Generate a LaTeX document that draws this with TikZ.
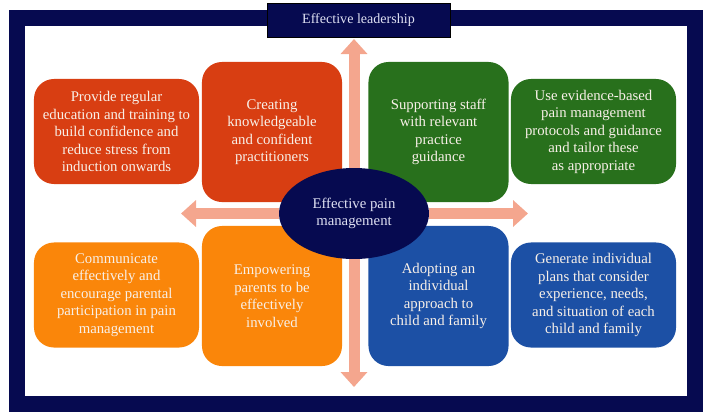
\documentclass[tikz,border=0pt]{standalone}
\usepackage{fontspec}
\setmainfont{Liberation Serif}
\usetikzlibrary{arrows.meta,shapes.geometric}
\definecolor{navy}{RGB}{6,10,80}
\definecolor{brick}{RGB}{216,62,18}
\definecolor{leaf}{RGB}{40,112,28}
\definecolor{amber}{RGB}{250,134,10}
\definecolor{cobalt}{RGB}{28,80,165}
\definecolor{salmon}{RGB}{244,166,142}
\definecolor{paper}{RGB}{248,240,232}
\definecolor{lilac}{RGB}{222,224,242}

\begin{document}
\begin{tikzpicture}[x=0.025cm,y=-0.025cm,
  box/.style={rounded corners=0.5cm,inner sep=0pt,align=center,text=paper,
    font=\fontsize{10.5}{12.45}\selectfont},
  wide/.style={box,minimum width=4.125cm,minimum height=2.625cm},
  tall/.style={box,minimum width=3.5cm,minimum height=3.5cm},
  spoke/.style={draw=salmon,line width=0.275cm,-{Triangle[width=0.65cm,length=0.375cm]}}]
  \useasboundingbox (0,0) rectangle (709,417);
  \draw[navy,line width=0.4cm] (17,18) rectangle (695,403.5);
  \node[fill=navy,draw=black,minimum width=4.575cm,minimum height=0.85cm,inner sep=0pt,
    text=lilac,font=\fontsize{10}{12}\selectfont] (lead) at (358.5,20) {Effective leadership};
  \node[wide,fill=brick] (educate) at (116.5,131.5) {Provide regular\\education and training to\\build confidence and\\reduce stress from\\induction onwards};
  \node[tall,fill=brick] (create) at (272,132) {Creating\\knowledgeable\\and confident\\practitioners};
  \node[tall,fill=leaf] (support) at (438.5,132) {Supporting staff\\with relevant\\practice\\guidance};
  \node[wide,fill=leaf] (evidence) at (593.5,131.5) {Use evidence-based\\pain management\\protocols and guidance\\and tailor these\\as appropriate};
  \node[wide,fill=amber] (communicate) at (116.5,295) {Communicate\\effectively and\\encourage parental\\participation in pain\\management};
  \node[tall,fill=amber] (empower) at (272,296) {Empowering\\parents to be\\effectively\\involved};
  \node[tall,fill=cobalt] (adopt) at (438.5,296) {Adopting an\\individual\\approach to\\child and family};
  \node[wide,fill=cobalt] (generate) at (593.5,295) {Generate individual\\plans that consider\\experience, needs,\\and situation of each\\child and family};
  \node[ellipse,fill=navy,minimum width=3.75cm,minimum height=2.275cm,inner sep=0pt,align=center,
    text=lilac,font=\fontsize{10.5}{12.45}\selectfont] (pain) at (354,213.5) {Effective pain\\management};
  \coordinate (up) at (354,39);
  \coordinate (down) at (354,387);
  \coordinate (left) at (181,213.5);
  \coordinate (right) at (528,213.5);
  \draw[spoke] (pain) -- (up);
  \draw[spoke] (pain) -- (down);
  \draw[spoke] (pain) -- (left);
  \draw[spoke] (pain) -- (right);
\end{tikzpicture}
\end{document}
